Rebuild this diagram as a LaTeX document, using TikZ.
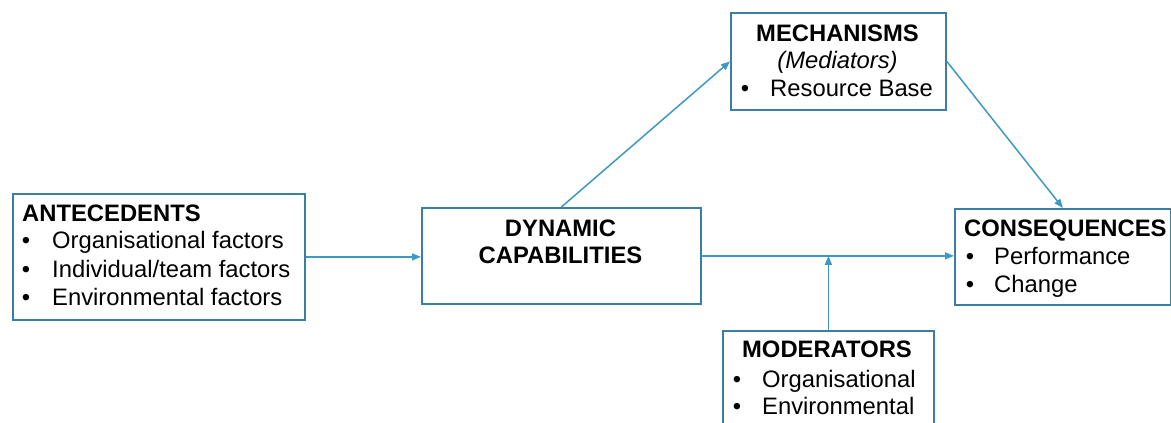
\documentclass[tikz,border=0pt]{standalone}
\usepackage{fontspec}
\setmainfont{Liberation Sans}
\usetikzlibrary{arrows.meta}
\definecolor{boxblue}{RGB}{58,125,165}
\definecolor{lineblue}{RGB}{62,152,196}
\tikzset{
  box/.style={draw=boxblue, line width=1.8pt, rectangle, inner sep=0pt, anchor=north west},
  link/.style={draw=lineblue, line width=1.5pt, -{Triangle[length=9pt,width=7pt]}},
  txt/.style={inner sep=0pt, anchor=base west, font=\fontsize{23.8}{28}\selectfont},
  head/.style={txt, font=\fontsize{23.8}{28}\selectfont\bfseries},
  ctext/.style={txt, anchor=base},
  chead/.style={head, anchor=base},
  bul/.style={txt, anchor=base}
}
\begin{document}
\begin{tikzpicture}[x=1pt, y=-1pt]
  \useasboundingbox (0,0) rectangle (1171,423);
  \clip (0,0) rectangle (1171,423);

  % boxes
  \node[box, minimum width=292pt, minimum height=126pt] (ant) at (12,193) {};
  \node[box, minimum width=279pt, minimum height=96pt] (dyn) at (421,207) {};
  \node[box, minimum width=215pt, minimum height=97pt] (mech) at (730,12) {};
  \node[box, minimum width=216pt, minimum height=96pt] (cons) at (954,208) {};
  \node[box, minimum width=211pt, minimum height=120pt] (mod) at (722,330) {};

  % antecedents
  \node[head] (antT) at (22,221) {ANTECEDENTS};
  \node[bul] (antB1) at (26,248.5) {•};
  \node[bul] (antB2) at (26,277) {•};
  \node[bul] (antB3) at (26,305.5) {•};
  \node[txt] (antL1) at (52,248.5) {Organisational factors};
  \node[txt] (antL2) at (52,277) {Individual/team factors};
  \node[txt] (antL3) at (52,305.5) {Environmental factors};

  % dynamic capabilities
  \node[chead] (dynT1) at (560.5,236) {DYNAMIC};
  \node[chead] (dynT2) at (560.5,263) {CAPABILITIES};

  % mechanisms
  \node[chead] (mechT) at (837.5,41) {MECHANISMS};
  \node[ctext, font=\fontsize{23.8}{28}\selectfont\itshape] (mechS) at (837.5,68.5) {(Mediators)};
  \node[bul] (mechB) at (745,96.5) {•};
  \node[txt] (mechL) at (770,96.5) {Resource Base};

  % consequences
  \node[head] (consT) at (964,236) {CONSEQUENCES};
  \node[bul] (consB1) at (970,264) {•};
  \node[bul] (consB2) at (970,292) {•};
  \node[txt] (consL1) at (994,264) {Performance};
  \node[txt] (consL2) at (994,292) {Change};

  % moderators
  \node[chead] (modT) at (827,357.5) {MODERATORS};
  \node[bul] (modB1) at (737,387) {•};
  \node[bul] (modB2) at (737,414.5) {•};
  \node[txt] (modL1) at (762,387) {Organisational};
  \node[txt] (modL2) at (762,414.5) {Environmental};

  % connectors
  \coordinate (junction) at (mod.north |- dyn.east);
  \draw[link] (ant.east) -- (ant.east -| dyn.west);
  \draw[link] (dyn.east) -- (dyn.east -| cons.west);
  \draw[link] (mod.north) -- (junction);
  \draw[link] (dyn.north) -- (mech.west);
  \draw[link] (mech.east) -- (cons.north);
\end{tikzpicture}
\end{document}
